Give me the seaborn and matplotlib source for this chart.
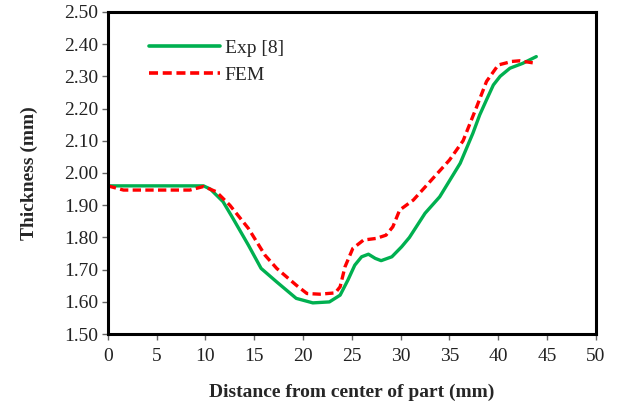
import matplotlib
matplotlib.use("Agg")
import matplotlib.pyplot as plt
import seaborn as sns
import pandas as pd

exp_x = [0, 5, 9.8, 10.5, 11.8, 12.8, 14.4, 15.7, 17.3, 19.3, 21.0, 22.7, 23.8, 24.6, 25.3,
         26.0, 26.7, 27.4, 28.0, 29.1, 30.1, 30.9, 32.5, 34.0, 36.1, 37.4, 38.1, 38.8, 39.5,
         40.2, 40.8, 41.2, 42.5, 43.9]
exp_y = [1.96, 1.96, 1.96, 1.95, 1.911, 1.86, 1.776, 1.704, 1.662, 1.611, 1.597, 1.60, 1.621,
         1.668, 1.714, 1.74, 1.748, 1.735, 1.728, 1.74, 1.771, 1.80, 1.875, 1.926, 2.03, 2.123,
         2.18, 2.227, 2.273, 2.30, 2.315, 2.325, 2.34, 2.361]

fem_x = [0, 1.6, 8.4, 9.8, 11.1, 12.5, 14.4, 16.1, 17.3, 19.3, 20.4, 21.7, 23.3, 23.8, 24.3,
         25.1, 26.2, 27.5, 28.5, 29.2, 29.9, 31.3, 33.0, 35.0, 36.4, 37.8, 38.8, 40.0, 41.4,
         42.2, 43.9]
fem_y = [1.96, 1.947, 1.947, 1.958, 1.942, 1.90, 1.828, 1.745, 1.704, 1.652, 1.626, 1.624,
         1.628, 1.647, 1.709, 1.766, 1.792, 1.797, 1.807, 1.833, 1.885, 1.916, 1.973, 2.04,
         2.10, 2.206, 2.284, 2.335, 2.346, 2.348, 2.34]

series_names = ["Exp [8]", "FEM"]
x_ticks = [0, 5, 10, 15, 20, 25, 30, 35, 40, 45, 50]
y_ticks = [1.50, 1.60, 1.70, 1.80, 1.90, 2.00, 2.10, 2.20, 2.30, 2.40, 2.50]

df = pd.concat([
    pd.DataFrame({"x": exp_x, "y": exp_y, "Series": series_names[0]}),
    pd.DataFrame({"x": fem_x, "y": fem_y, "Series": series_names[1]}),
], ignore_index=True)

sns.set_style("white")
plt.rcParams["font.family"] = ["Liberation Serif", "DejaVu Serif"]

fig = plt.figure(figsize=(6.2, 4.07), dpi=100)
ax = fig.add_axes([0.174, 0.179, 0.787, 0.792])

sns.lineplot(data=df, x="x", y="y", hue="Series", style="Series",
             palette={"Exp [8]": "#00B050", "FEM": "#FF0000"},
             dashes={"Exp [8]": "", "FEM": (2.5, 1.3)},
             linewidth=2.4, estimator=None, sort=False, ax=ax)

ax.set_xlim(0, 50)
ax.set_ylim(1.5, 2.5)
ax.set_xticks(x_ticks)
ax.set_yticks(y_ticks)
ax.set_xticklabels([str(t) for t in x_ticks])
ax.set_yticklabels([f"{t:.2f}" for t in y_ticks])
ax.tick_params(axis="both", direction="out", length=4, width=1, color="#666666",
               labelsize=14, labelcolor="#222222", pad=3)
ax.tick_params(axis="x", bottom=True, pad=6)
ax.tick_params(axis="y", left=True)
for s in ax.spines.values():
    s.set_linewidth(2.2)
    s.set_color("black")

ax.set_xlabel("Distance from center of part (mm)", fontsize=14, fontweight="bold", labelpad=13.5)
ax.set_ylabel("Thickness (mm)", fontsize=14, fontweight="bold", labelpad=19)

leg = ax.legend(loc="upper left", bbox_to_anchor=(0.048, 0.97), frameon=False,
                fontsize=14, handlelength=3.65, handletextpad=0.25, labelspacing=0.5)
for line in leg.get_lines():
    line.set_linewidth(2.6)

fig.savefig("out.png", dpi=100)
